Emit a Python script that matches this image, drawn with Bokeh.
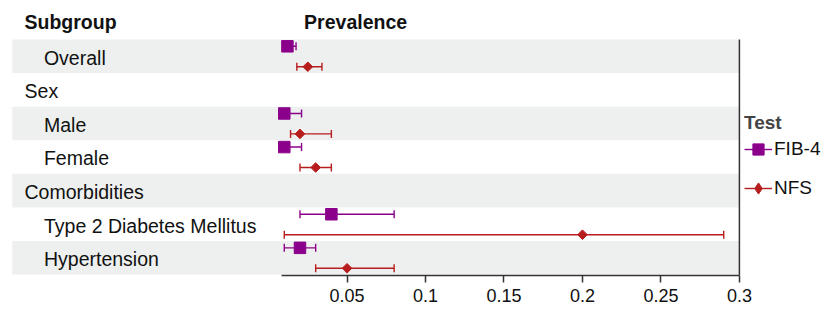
import numpy as np
from bokeh.plotting import figure
from bokeh.models import ColumnDataSource, Range1d, FixedTicker, Legend, LegendItem
from bokeh.core.properties import value
from bokeh.embed import file_html
from bokeh.resources import INLINE

# ---------------- data ----------------
subgroups = ["Overall", "Sex", "Male", "Female", "Comorbidities",
             "Type 2 Diabetes Mellitus", "Hypertension"]
indented = [True, False, True, True, False, True, True]
shaded = [True, False, True, False, True, False, True]

data_rows = ["Overall", "Male", "Female", "Type 2 Diabetes Mellitus", "Hypertension"]
fib4_est = [0.012, 0.010, 0.010, 0.040, 0.020]
fib4_low = [0.010, 0.008, 0.008, 0.020, 0.010]
fib4_high = [0.0175, 0.021, 0.021, 0.080, 0.030]
nfs_est = [0.025, 0.020, 0.030, 0.200, 0.050]
nfs_low = [0.018, 0.014, 0.020, 0.010, 0.030]
nfs_high = [0.034, 0.040, 0.040, 0.290, 0.080]

tick_values = [0.05, 0.10, 0.15, 0.20, 0.25, 0.30]
tick_labels = ["0.05", "0.1", "0.15", "0.2", "0.25", "0.3"]

# ---------------- layout constants ----------------
W, H = 822, 309
REF_W, REF_H = 838, 325
SX, SY = W / REF_W, H / REF_H
PPU = 1600.0                 # reference px per data unit
ROW = 35.33                  # reference px per row
ROW0 = 58.67                 # reference y of first row centre
BOTTOM_BORDER = 34
FRAME_H = H - BOTTOM_BORDER
AXIS_START = 0.0084
FONT = value("Liberation Sans")

def xd(rx):   # reference x -> data x
    return 0.3 + (rx - 753.3) / PPU

def yd(ry):   # reference y -> data y (row units)
    return (ROW0 - ry) / ROW

p = figure(width=W, height=H, output_backend="svg", toolbar_location=None,
           x_range=Range1d(xd(0), xd(REF_W)),
           y_range=Range1d(yd(FRAME_H / SY), yd(0)),
           min_border=0, min_border_bottom=BOTTOM_BORDER)
p.outline_line_color = None
p.grid.visible = False
p.yaxis.visible = False
p.background_fill_color = "white"
p.border_fill_color = "white"

row_y = [-i for i in range(len(subgroups))]
ymap = dict(zip(subgroups, row_y))

# shaded bands
band_y = [y for y, s in zip(row_y, shaded) if s]
p.hbar(y=band_y, left=xd(12), right=0.3, height=1.0,
       fill_color="#EEF0EF", line_color=None)

# right vertical border line
p.segment(x0=[0.3], x1=[0.3], y0=[0.5], y1=[yd(FRAME_H / SY)],
          line_color="#333333", line_width=1.5)

# subgroup labels
lab_x = [xd(44.3) if ind else xd(24.5) for ind in indented]
lab_y = [y - 1.5 / ROW for y in row_y]
p.text(x=lab_x, y=lab_y, text=subgroups, text_font=FONT, text_font_size=value("19.5px"),
       text_baseline="middle", text_align="left", text_color="#111111")

# headers
hy = yd(22.5)
p.text(x=[xd(24.5), xd(309.5)], y=[hy, hy], text=["Subgroup", "Prevalence"],
       text_font=FONT, text_font_size=value("19.5px"), text_font_style="bold",
       text_baseline="middle", text_align="left", text_color="#111111")

FIB_COL = "#8B008B"
NFS_COL = "#B81D1D"
FIB_OFF = 10.5 / ROW
NFS_OFF = -11.0 / ROW

fy = [ymap[r] + FIB_OFF for r in data_rows]
ny = [ymap[r] + NFS_OFF for r in data_rows]

fib_src = ColumnDataSource(dict(y=fy, est=fib4_est, lo=fib4_low, hi=fib4_high))
nfs_src = ColumnDataSource(dict(y=ny, est=nfs_est, lo=nfs_low, hi=nfs_high))

def draw(src, color):
    seg = p.segment(x0="lo", x1="hi", y0="y", y1="y", source=src,
                    line_color=color, line_width=1.4)
    for col in ("lo", "hi"):
        p.scatter(x=col, y="y", source=src, marker="dash", angle=np.pi / 2, size=8,
                  line_color=color, line_width=1.4)
    return seg

fseg = draw(fib_src, FIB_COL)
fpt = p.scatter(x="est", y="y", source=fib_src, marker="square", size=11.5,
                fill_color=FIB_COL, line_color=FIB_COL)
nseg = draw(nfs_src, NFS_COL)
# diamond key (drawn under the rotated squares; used for the legend swatch)
nkey = p.scatter(x="est", y="y", source=nfs_src, marker="diamond", size=6,
                 fill_color=NFS_COL, line_color=NFS_COL)
p.scatter(x="est", y="y", source=nfs_src, marker="square", size=6.8, angle=np.pi / 4,
          fill_color=NFS_COL, line_color=NFS_COL)

# x axis
ax = p.xaxis[0]
ax.bounds = (AXIS_START, 0.3)
ax.ticker = FixedTicker(ticks=tick_values)
ax.major_label_overrides = {v: l for v, l in zip(tick_values, tick_labels)}
ax.minor_tick_line_color = None
ax.major_tick_in = 0
ax.major_tick_out = 7
ax.major_label_standoff = 6
ax.axis_line_color = "#333333"
ax.axis_line_width = 1.5
ax.major_tick_line_color = "#333333"
ax.major_tick_line_width = 1.5
ax.major_label_text_font = "Liberation Sans"
ax.major_label_text_font_size = "18px"
ax.major_label_text_color = "#111111"

legend = Legend(items=[LegendItem(label="FIB-4", renderers=[fseg, fpt]),
                       LegendItem(label="NFS", renderers=[nseg, nkey])],
                location=(744, 72), title="Test",
                title_text_font="Liberation Sans", title_text_font_size="19px",
                title_text_font_style="bold", title_standoff=0,
                label_text_font="Liberation Sans", label_text_font_size="19px",
                label_text_color="#111111",
                glyph_width=28, glyph_height=30, label_standoff=2, spacing=9,
                padding=0, margin=0, border_line_color=None,
                background_fill_alpha=0)
p.add_layout(legend)

open("out.html", "w").write(file_html(p, INLINE))
